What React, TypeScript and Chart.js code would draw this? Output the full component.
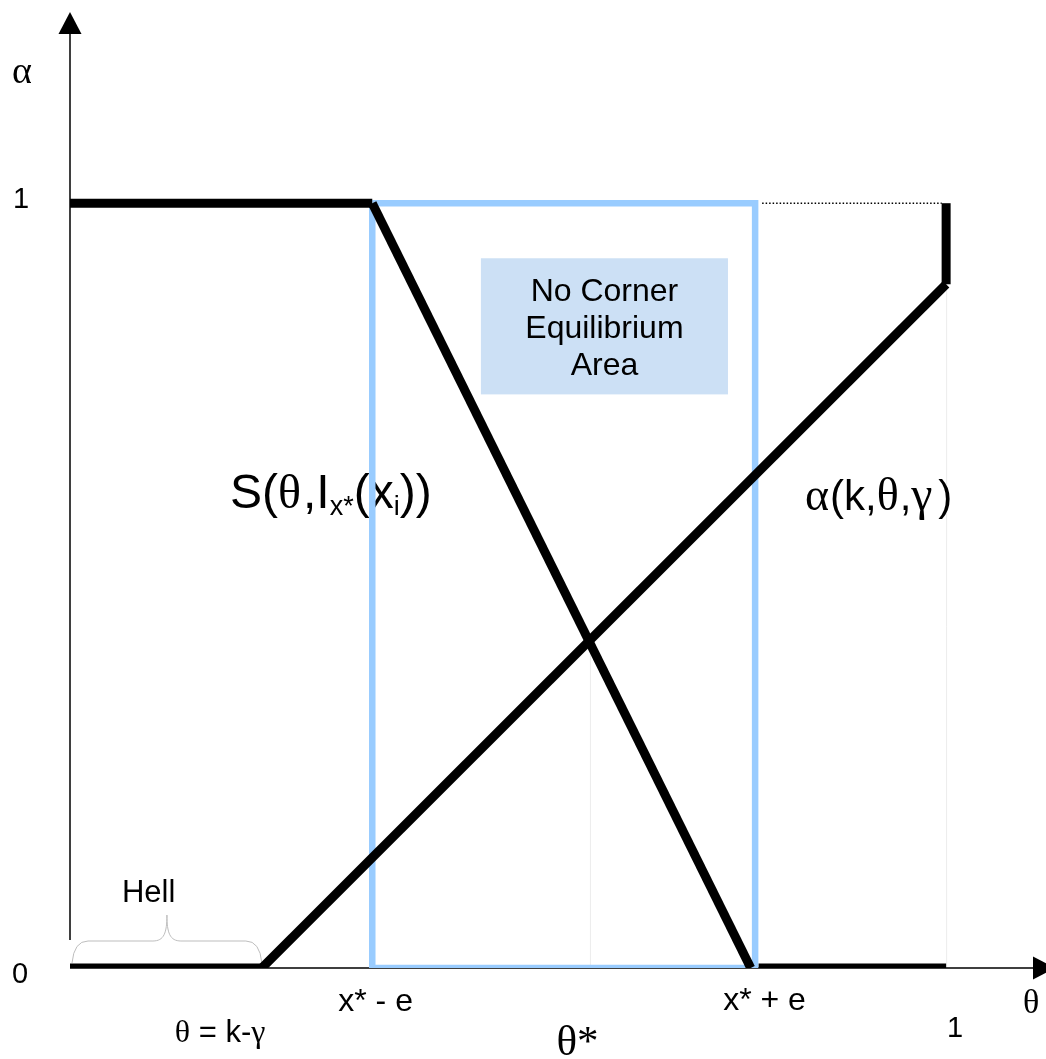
import React, { useEffect, useRef } from "react";
import { Chart, registerables } from "chart.js";

Chart.register(...registerables);

// ---- data (θ on x, α on y) ----
const axisThetaMax = 1.114;
const axisAlphaMax = 1.25;

const sFlatTheta = [0, 0.345];
const sFlatAlpha = [1, 1];
const sDropTheta = [0.345, 0.777];
const sDropAlpha = [1, 0];
const sZeroTheta = [0.786, 1];
const sZeroAlpha = [0, 0];

const aZeroTheta = [0, 0.219];
const aZeroAlpha = [0, 0];
const aRiseTheta = [0.219, 1];
const aRiseAlpha = [0, 0.894];
const aJumpTheta = [1, 1];
const aJumpAlpha = [0.894, 1];

const bandTheta = [0.345, 0.782, 0.782, 0.345, 0.345];
const bandAlpha = [1, 1, 0, 0, 1];

const dottedTheta = [0.79, 0.995];
const dottedAlpha = [1, 1];

const boxTheta = [0.469, 0.751];
const boxAlpha = [0.75, 0.928];
const boxLines = ["No Corner", "Equilibrium", "Area"];

const thetaStar = 0.594;
const alphaStar = 0.429;
const hellTheta = [0, 0.219];

const pts = (xs: number[], ys: number[]) => xs.map((x, i) => ({ x, y: ys[i] }));

const SANS = '"Liberation Sans", Arial, Helvetica, sans-serif';
const SERIF = '"Liberation Serif", "Times New Roman", serif';

type Run = { t: string; f: string; dy?: number; adv?: number };
function drawRuns(ctx: CanvasRenderingContext2D, runs: Run[], x: number, y: number) {
  let cx = x;
  for (const r of runs) {
    ctx.font = r.f;
    ctx.fillText(r.t, cx, y + (r.dy || 0));
    cx += r.adv !== undefined ? r.adv : ctx.measureText(r.t).width;
  }
}

const overlay = {
  id: "overlay",
  beforeDatasetsDraw(chart: any) {
    const ctx: CanvasRenderingContext2D = chart.ctx;
    const xs = chart.scales.x;
    const ys = chart.scales.y;
    const px = (v: number) => xs.getPixelForValue(v);
    const py = (v: number) => ys.getPixelForValue(v);
    ctx.save();

    // faint guide lines
    ctx.strokeStyle = "#ececec";
    ctx.lineWidth = 1;
    ctx.beginPath();
    ctx.moveTo(px(thetaStar), py(alphaStar));
    ctx.lineTo(px(thetaStar), py(0));
    ctx.moveTo(px(1) + 0.5, py(aRiseAlpha[1]));
    ctx.lineTo(px(1) + 0.5, py(0));
    ctx.stroke();

    // no-corner box
    ctx.fillStyle = "rgb(204,224,245)";
    const bx0 = px(boxTheta[0]);
    const bx1 = px(boxTheta[1]);
    const by0 = py(boxAlpha[1]);
    const by1 = py(boxAlpha[0]);
    ctx.fillRect(bx0, by0, bx1 - bx0, by1 - by0);
    ctx.fillStyle = "#000";
    ctx.textAlign = "center";
    ctx.textBaseline = "alphabetic";
    ctx.font = `32px ${SANS}`;
    const cx = (bx0 + bx1) / 2;
    boxLines.forEach((l, i) => ctx.fillText(l, cx, by0 + 43 + i * 37));

    // axes
    ctx.strokeStyle = "#000";
    ctx.lineWidth = 1.5;
    const ax = px(0);
    const ay = py(0);
    const topY = py(axisAlphaMax);
    ctx.beginPath();
    ctx.moveTo(ax, topY + 20);
    ctx.lineTo(ax, ay - 28);
    ctx.moveTo(ax, ay);
    ctx.lineTo(chart.chartArea.right - 13, ay);
    ctx.stroke();
    ctx.fillStyle = "#000";
    ctx.beginPath();
    ctx.moveTo(ax, topY);
    ctx.lineTo(ax - 11.5, topY + 22);
    ctx.lineTo(ax + 11.5, topY + 22);
    ctx.closePath();
    ctx.fill();
    const rx = chart.chartArea.right - 13;
    ctx.beginPath();
    ctx.moveTo(rx + 22, ay);
    ctx.lineTo(rx, ay - 11.5);
    ctx.lineTo(rx, ay + 11.5);
    ctx.closePath();
    ctx.fill();

    // hell brace
    const L = px(hellTheta[0]) + 2;
    const R = px(hellTheta[1]);
    const M = (L + R) / 2;
    const y0 = ay - 5;
    const yf = ay - 27;
    const tip = ay - 53;
    ctx.strokeStyle = "#bdbdbd";
    ctx.lineWidth = 1;
    ctx.beginPath();
    ctx.moveTo(L, y0);
    ctx.quadraticCurveTo(L + 2, yf, L + 16, yf);
    ctx.lineTo(M - 14, yf);
    ctx.bezierCurveTo(M - 3, yf, M, yf - 8, M, tip);
    ctx.bezierCurveTo(M, yf - 8, M + 3, yf, M + 14, yf);
    ctx.lineTo(R - 16, yf);
    ctx.quadraticCurveTo(R - 2, yf, R, y0);
    ctx.stroke();

    // labels
    ctx.fillStyle = "#000";
    ctx.textAlign = "left";
    drawRuns(ctx, [{ t: "α", f: `38px ${SERIF}` }], ax - 58, topY + 71);
    drawRuns(ctx, [{ t: "1", f: `29px ${SANS}` }], ax - 57, py(1) + 5);
    drawRuns(ctx, [{ t: "0", f: `29px ${SANS}` }], ax - 58, ay + 15);
    drawRuns(ctx, [{ t: "Hell", f: `31px ${SANS}` }], M - 45, ay - 66);
    drawRuns(ctx, [{ t: "x* - e", f: `32px ${SANS}` }], px(bandTheta[0]) - 34, ay + 43);
    drawRuns(ctx, [{ t: "x* + e", f: `32px ${SANS}` }], px(bandTheta[1]) - 32, ay + 42);
    drawRuns(
      ctx,
      [
        { t: "θ", f: `32px ${SERIF}` },
        { t: " = k-", f: `31px ${SANS}` },
        { t: "γ", f: `32px ${SERIF}` },
      ],
      R - 87,
      ay + 74
    );
    drawRuns(ctx, [{ t: "θ*", f: `43px ${SERIF}` }], px(thetaStar) - 34, ay + 87);
    drawRuns(ctx, [{ t: "1", f: `29px ${SANS}` }], px(1) + 1, ay + 69);
    drawRuns(ctx, [{ t: "θ", f: `34px ${SERIF}` }], px(1) + 77, ay + 45);

    drawRuns(
      ctx,
      [
        { t: "S(", f: `48px ${SANS}` },
        { t: "θ", f: `48px ${SERIF}`, adv: 25 },
        { t: ",I", f: `48px ${SANS}` },
        { t: "x*", f: `27px ${SANS}`, dy: 7 },
        { t: "(x", f: `48px ${SANS}` },
        { t: "i", f: `27px ${SANS}`, dy: 7 },
        { t: "))", f: `48px ${SANS}` },
      ],
      230,
      py(0.6) - 1
    );
    drawRuns(
      ctx,
      [
        { t: "α", f: `46px ${SERIF}`, adv: 25 },
        { t: "(k,", f: `42px ${SANS}` },
        { t: "θ", f: `46px ${SERIF}`, adv: 23 },
        { t: ",", f: `42px ${SANS}` },
        { t: "γ", f: `48px ${SERIF}`, adv: 27 },
        { t: ")", f: `42px ${SANS}` },
      ],
      805,
      py(0.6) + 1
    );
    ctx.restore();
  },
};

export default function App() {
  const ref = useRef<HTMLCanvasElement>(null);
  useEffect(() => {
    const black = (data: any, order: number) => ({
      data,
      showLine: true,
      borderColor: "#000",
      borderWidth: 9,
      borderCapStyle: "butt",
      pointRadius: 0,
      order,
    });
    const chart = new Chart(ref.current as HTMLCanvasElement, {
      type: "scatter",
      data: {
        datasets: [
          black(pts(sFlatTheta, sFlatAlpha), 1),
          black(pts(sDropTheta, sDropAlpha), 1),
          black(pts(sZeroTheta, sZeroAlpha), 1),
          black(pts(aZeroTheta, aZeroAlpha), 1),
          black(pts(aRiseTheta, aRiseAlpha), 1),
          black(pts(aJumpTheta, aJumpAlpha), 1),
          {
            data: pts(bandTheta, bandAlpha),
            showLine: true,
            borderColor: "rgb(153,204,255)",
            borderWidth: 6.5,
            borderJoinStyle: "miter",
            pointRadius: 0,
            order: 5,
          },
          {
            data: pts(dottedTheta, dottedAlpha),
            showLine: true,
            borderColor: "#000",
            borderWidth: 1.5,
            borderDash: [1.5, 2],
            pointRadius: 0,
            order: 6,
          },
        ] as any,
      },
      options: {
        animation: false,
        responsive: false,
        events: [],
        layout: { padding: { left: 70, right: 0, top: 12, bottom: 91 } },
        scales: {
          x: { type: "linear", min: 0, max: axisThetaMax, display: false },
          y: { type: "linear", min: 0, max: axisAlphaMax, display: false },
        },
        plugins: { legend: { display: false }, tooltip: { enabled: false } },
      } as any,
      plugins: [overlay],
    });
    return () => chart.destroy();
  }, []);
  return (
    <div style={{ position: "absolute", left: 0, top: 0, width: 1046, height: 1059, background: "#fff" }}>
      <canvas ref={ref} width={1046} height={1059} style={{ display: "block" }} />
    </div>
  );
}
